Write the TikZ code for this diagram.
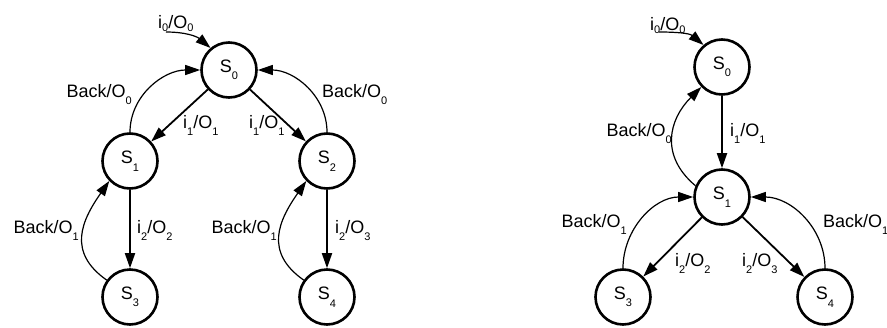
\documentclass[tikz,border=0pt]{standalone}
\usepackage{fontspec}
\setmainfont{Liberation Sans}
\usetikzlibrary{arrows.meta}
\newcommand{\sub}[2][7.5pt]{\raisebox{-#1}{\fontsize{11}{11}\selectfont #2}}

\begin{document}
\begin{tikzpicture}[x=1pt,y=-1pt,
	every node/.style={font=\fontsize{18}{20}\selectfont},
	state/.style={circle,draw,line width=2.6pt,minimum size=55pt,inner sep=0pt},
	lbl/.style={inner sep=0pt},
	>={Triangle[length=15pt,width=10pt]},
	go/.style={->,line width=1.8pt},
	back/.style={->,line width=1.2pt},
	backloop/.style={out=145,in=235,looseness=1.25}]
	\useasboundingbox (0,0) rectangle (887,327);
	\node[state] (s0) at (229,70) {S\sub0};
	\node[state] (s1) at (130,161) {S\sub1};
	\node[state] (s2) at (327,161) {S\sub2};
	\node[state] (s3) at (130,297) {S\sub3};
	\node[state] (s4) at (327,297) {S\sub4};
	\coordinate (in0) at (166,32);
	\draw[back] (in0) to[out=0,in=140] (s0.130);
	\node[lbl,anchor=base west] (li0) at (158,28) {i\sub[3pt]0/O\sub[3pt]0};
	\draw[go] (s0) -- (s1);
	\draw[go] (s0) -- (s2);
	\draw[go] (s1) -- (s3);
	\draw[go] (s2) -- (s4);
	\draw[back] (s1.north) to[out=90,in=180] (s0.west);
	\draw[back] (s2.north) to[out=90,in=0] (s0.east);
	\draw[back] (s3.144) to[backloop] (s1.224);
	\draw[back] (s4.144) to[backloop] (s2.224);
	\node[lbl,anchor=base east] (lb10) at (132,97) {Back/O\sub0};
	\node[lbl,anchor=base west] (lb20) at (322,97) {Back/O\sub0};
	\node[lbl,anchor=base west] (l01) at (183,128) {i\sub1/O\sub1};
	\node[lbl,anchor=base west] (l02) at (249,128) {i\sub1/O\sub1};
	\node[lbl,anchor=base east] (lb31) at (79,233) {Back/O\sub1};
	\node[lbl,anchor=base east] (lb42) at (277,233) {Back/O\sub1};
	\node[lbl,anchor=base west] (l13) at (137,233) {i\sub2/O\sub2};
	\node[lbl,anchor=base west] (l24) at (335,233) {i\sub2/O\sub3};

	\node[state] (r0) at (722,67) {S\sub0};
	\node[state] (r1) at (722,197) {S\sub1};
	\node[state] (r3) at (623,297) {S\sub3};
	\node[state] (r4) at (825,297) {S\sub4};
	\coordinate (in1) at (659,32);
	\draw[back] (in1) to[out=0,in=140] (r0.130);
	\node[lbl,anchor=base west] (ri0) at (650,30) {i\sub[3pt]0/O\sub[3pt]0};
	\draw[go] (r0) -- (r1);
	\draw[go] (r1) -- (r3);
	\draw[go] (r1) -- (r4);
	\draw[back] (r1.157) to[backloop,out=140,in=225,looseness=1.2] (r0.224);
	\draw[back] (r3.north) to[out=90,in=180] (r1.west);
	\draw[back] (r4.north) to[out=90,in=0] (r1.east);
	\node[lbl,anchor=base east] (rb10) at (672,136) {Back/O\sub0};
	\node[lbl,anchor=base west] (r01) at (730,136) {i\sub1/O\sub1};
	\node[lbl,anchor=base east] (rb31) at (627,227) {Back/O\sub1};
	\node[lbl,anchor=base west] (rb41) at (823,227) {Back/O\sub1};
	\node[lbl,anchor=base west] (r13) at (675,266) {i\sub2/O\sub2};
	\node[lbl,anchor=base west] (r14) at (742,266) {i\sub2/O\sub3};
\end{tikzpicture}
\end{document}
